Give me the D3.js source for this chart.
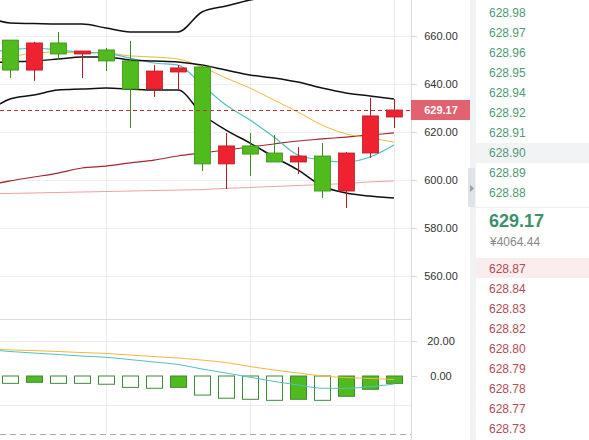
<!DOCTYPE html>
<html lang="zh">
<head>
<meta charset="UTF-8" />
<title>K线</title>
<style>
  body { margin: 0; background: #fff; font-family: "Liberation Sans", Arial, sans-serif; }
  svg { display: block; }
  .tick line { stroke: #d6d6d6; }
  .tick text { fill: #333; font-size: 11px; }
</style>
</head>
<body>
<svg id="chart" width="589" height="440"></svg>
<script src="https://cdn.jsdelivr.net/npm/d3@7/dist/d3.min.js"></script>
<script>
// candles (red = up, green = down)
const opens  = [658.3, 645.8, 657.1, 652.5, 654.2, 649.6, 637.9, 645.0, 647.1, 606.7, 614.2, 611.25, 607.5, 610.0, 595.4, 611.25, 626.25];
const highs  = [658.3, 657.5, 661.7, 653.75, 655.0, 657.9, 647.9, 647.9, 647.9, 619.6, 619.6, 618.75, 613.75, 615.4, 611.7, 634.2, 633.75];
const lows   = [642.5, 641.3, 650.0, 642.5, 645.4, 621.7, 634.6, 637.5, 603.75, 596.25, 601.7, 607.5, 602.5, 592.5, 588.3, 609.2, 621.7];
const closes = [645.8, 657.1, 652.5, 653.75, 649.6, 637.9, 645.4, 646.7, 606.7, 614.2, 610.8, 607.5, 610.0, 595.4, 611.25, 626.7, 629.17];
const lastPrice = 629.17;

// indicator lines, first value belongs to the bar just left of the view
const bollUp  = [668.3, 665.4, 665.2, 665.0, 665.0, 663.3, 661.7, 661.7, 661.7, 670.0, 672.5, 675.0, 676.7, 678.3, 679.2, 678.3, 676.7, 675.4];
const bollMid = [648.75, 649.2, 649.6, 650.4, 651.25, 651.25, 650.0, 649.6, 649.2, 647.9, 645.8, 643.75, 642.5, 640.8, 638.3, 636.25, 635.0, 633.75];
const bollLow = [627.9, 633.75, 635.4, 637.5, 637.9, 638.3, 637.9, 637.5, 637.5, 627.5, 620.8, 615.4, 609.6, 604.2, 597.5, 594.6, 593.3, 592.5];
const ma5  = [653.3, 654.2, 655.0, 654.2, 653.3, 652.9, 650.8, 648.75, 647.9, 639.6, 631.25, 625.0, 617.9, 610.4, 608.3, 607.5, 609.6, 614.6];
const ma10 = [649.2, 651.25, 652.9, 653.3, 652.9, 652.9, 651.7, 651.25, 650.4, 647.1, 642.5, 638.3, 633.3, 628.3, 622.9, 619.2, 617.5, 615.8];
const ma30 = [597.5, 599.6, 601.25, 602.9, 605.0, 605.8, 607.1, 608.3, 610.0, 611.25, 612.5, 613.75, 615.0, 616.25, 617.1, 617.9, 618.75, 619.6];
const ma60 = [594.2, 594.4, 594.6, 594.8, 595.0, 595.2, 595.4, 595.6, 595.8, 596.0, 596.5, 596.9, 597.3, 597.7, 598.1, 598.5, 599.2, 599.6];

// MACD
const dif  = [15.1, 14.0, 13.1, 12.3, 11.4, 10.7, 9.4, 8.0, 6.6, 4.0, 1.7, -0.7, -3.1, -5.1, -7.0, -7.0, -6.1, -4.6];
const dea  = [15.7, 14.9, 14.5, 14.0, 13.4, 12.9, 12.0, 11.1, 10.3, 9.1, 7.7, 5.4, 3.4, 1.7, 0.0, -0.9, -1.4, -2.0];
const hist = [-4.2, -3.6, -4.2, -4.2, -4.7, -6.5, -7.0, -6.5, -10.9, -12.7, -13.3, -13.9, -13.3, -13.9, -11.6, -7.6, -4.2];

const priceTicks = [560, 580, 600, 620, 640, 660];
const macdTicks = [0, 20];
const macdGrid = [20, -16.5];
const vGridIdx = [4, 10, 16];

// order book
const asks = [628.98, 628.97, 628.96, 628.95, 628.94, 628.92, 628.91, 628.90, 628.89, 628.88];
const bids = [628.87, 628.84, 628.83, 628.82, 628.80, 628.79, 628.78, 628.77, 628.73];
const cnyPrice = "¥4064.44";

const svg = d3.select("#chart");
const W = 411, mainH = 319;

const x = d3.scaleLinear().domain([0, 16]).range([10, 394]);
const y = d3.scaleLinear().domain([560, 660]).range([276, 36]);
const ym = d3.scaleLinear().domain([0, 20]).range([376, 341]);

const defs = svg.append("defs");
defs.append("clipPath").attr("id", "clipMain").append("rect").attr("width", W).attr("height", mainH);
defs.append("clipPath").attr("id", "clipMacd").append("rect").attr("y", mainH).attr("width", W).attr("height", 440 - mainH);

// grid
svg.append("g").selectAll("line").data(priceTicks).join("line")
  .attr("x1", 0).attr("x2", W)
  .attr("y1", d => Math.round(y(d)) + 0.5).attr("y2", d => Math.round(y(d)) + 0.5)
  .attr("stroke", "#f0f0f0");
svg.append("g").selectAll("line").data(macdGrid).join("line")
  .attr("x1", 0).attr("x2", W)
  .attr("y1", d => Math.round(ym(d)) + 0.5).attr("y2", d => Math.round(ym(d)) + 0.5)
  .attr("stroke", "#ececec");
svg.append("g").selectAll("line").data(vGridIdx).join("line")
  .attr("x1", d => Math.round(x(d)) + 0.5).attr("x2", d => Math.round(x(d)) + 0.5)
  .attr("y1", 0).attr("y2", 434)
  .attr("stroke", "#ededed");

// panel separators
svg.append("line").attr("x1", 0).attr("x2", W).attr("y1", mainH + 0.5).attr("y2", mainH + 0.5).attr("stroke", "#dcdcdc");
svg.append("line").attr("x1", 0).attr("x2", W).attr("y1", 434.5).attr("y2", 434.5)
  .attr("stroke", "#aaa").attr("stroke-dasharray", "6,4");
svg.append("line").attr("x1", W + 0.5).attr("x2", W + 0.5).attr("y1", 0).attr("y2", 440).attr("stroke", "#dcdcdc");

// price panel
const main = svg.append("g").attr("clip-path", "url(#clipMain)");
const lineIdx = d3.line().x((d, i) => x(i - 1)).y(d => y(d)).curve(d3.curveMonotoneX);

[[ma60, "#eba3a3", 1], [ma30, "#a3262e", 1.2], [ma10, "#efb83f", 1], [ma5, "#52bfc6", 1.2],
 [bollUp, "#111", 1.5], [bollMid, "#111", 1.5], [bollLow, "#111", 1.5]].forEach(([vals, col, w]) => {
  main.append("path").datum(vals).attr("d", lineIdx)
    .attr("fill", "none").attr("stroke", col).attr("stroke-width", w);
});

const candles = opens.map((o, i) => ({ i, o, h: highs[i], l: lows[i], c: closes[i] }));
const upFill = "#f0222f", upLine = "#b71c25", dnFill = "#4fbb1c", dnLine = "#3a8e18";
const cg = main.append("g").selectAll("g").data(candles).join("g");
cg.append("line")
  .attr("x1", d => Math.round(x(d.i)) + 0.5).attr("x2", d => Math.round(x(d.i)) + 0.5)
  .attr("y1", d => y(d.h)).attr("y2", d => y(d.l))
  .attr("stroke", d => d.c >= d.o ? upLine : dnLine);
cg.append("rect")
  .attr("x", d => Math.round(x(d.i)) - 7.5).attr("width", 16)
  .attr("y", d => y(Math.max(d.o, d.c)))
  .attr("height", d => Math.max(1, Math.abs(y(d.o) - y(d.c))))
  .attr("fill", d => d.c >= d.o ? upFill : dnFill)
  .attr("stroke", d => d.c >= d.o ? upLine : dnLine).attr("stroke-width", 0.8);

// last price line
main.append("line").attr("x1", 0).attr("x2", W)
  .attr("y1", Math.round(y(lastPrice)) + 0.5).attr("y2", Math.round(y(lastPrice)) + 0.5)
  .attr("stroke", "#b8333a").attr("stroke-dasharray", "4,3");

// price axis
const axisP = svg.append("g").attr("transform", `translate(${W},0)`)
  .call(d3.axisRight(y).tickValues(priceTicks).tickSize(6).tickFormat(d3.format(".2f")));
axisP.select(".domain").remove();
axisP.selectAll("text").attr("x", 30).attr("text-anchor", "middle");

const pl = svg.append("g").attr("transform", `translate(${W},${y(lastPrice)})`);
pl.append("rect").attr("x", 0).attr("y", -10).attr("width", 60).attr("height", 20).attr("fill", "#e2626f");
pl.append("text").attr("x", 30).attr("dy", "0.35em").attr("text-anchor", "middle")
  .attr("fill", "#fff").attr("font-size", 11).attr("font-weight", "bold").text(lastPrice.toFixed(2));

// MACD panel
const macd = svg.append("g").attr("clip-path", "url(#clipMacd)");
const mline = d3.line().x((d, i) => x(i - 1)).y(d => ym(d)).curve(d3.curveMonotoneX);
macd.append("g").selectAll("rect").data(hist).join("rect")
  .attr("x", (d, i) => Math.round(x(i)) - 7.5).attr("width", 16)
  .attr("y", d => ym(Math.max(0, d)))
  .attr("height", d => Math.abs(ym(d) - ym(0)))
  .attr("fill", (d, i) => i > 0 && Math.abs(d) < Math.abs(hist[i - 1]) ? dnFill : "#fff")
  .attr("stroke", "#3f8a3a").attr("stroke-width", 1);
macd.append("path").datum(dea).attr("d", mline).attr("fill", "none").attr("stroke", "#efb83f").attr("stroke-width", 1);
macd.append("path").datum(dif).attr("d", mline).attr("fill", "none").attr("stroke", "#52bfc6").attr("stroke-width", 1);

const axisM = svg.append("g").attr("transform", `translate(${W},0)`)
  .call(d3.axisRight(ym).tickValues(macdTicks).tickSize(6).tickFormat(d3.format(".2f")));
axisM.select(".domain").remove();
axisM.selectAll("text").attr("x", 30).attr("text-anchor", "middle");

// order book panel
const bx = 476, rowH = 20;
svg.append("rect").attr("x", 470).attr("y", 0).attr("width", 6).attr("height", 440).attr("fill", "#f1f2f4");
svg.append("rect").attr("x", 468).attr("y", 168).attr("width", 7).attr("height", 39).attr("fill", "#dfe2e6");
svg.append("path").attr("d", "M470,185 L474,188.5 L470,192 Z").attr("fill", "#9aa0a8");

const book = svg.append("g").attr("font-size", 12);
book.append("rect").attr("x", bx).attr("y", 3 + 7 * rowH).attr("width", 589 - bx).attr("height", rowH).attr("fill", "#f2f3f5");
book.selectAll("text.ask").data(asks).join("text").attr("class", "ask")
  .attr("x", 489).attr("y", (d, i) => 13 + i * rowH).attr("dy", "0.35em")
  .attr("fill", "#4f9a78").text(d => d.toFixed(2));

book.append("line").attr("x1", bx).attr("x2", 589).attr("y1", 207.5).attr("y2", 207.5).attr("stroke", "#eceef1");
book.append("text").attr("x", 489).attr("y", 221).attr("dy", "0.35em")
  .attr("fill", "#3e8f6b").attr("font-size", 18).attr("font-weight", "bold").text(lastPrice.toFixed(2));
book.append("text").attr("x", 490).attr("y", 242).attr("dy", "0.35em")
  .attr("fill", "#888").attr("font-size", 12).text(cnyPrice);

book.append("rect").attr("x", bx).attr("y", 258).attr("width", 589 - bx).attr("height", rowH).attr("fill", "#fbeced");
book.selectAll("text.bid").data(bids).join("text").attr("class", "bid")
  .attr("x", 489).attr("y", (d, i) => 268.5 + i * rowH).attr("dy", "0.35em")
  .attr("fill", "#b14b5a").text(d => d.toFixed(2));
</script>
</body>
</html>
